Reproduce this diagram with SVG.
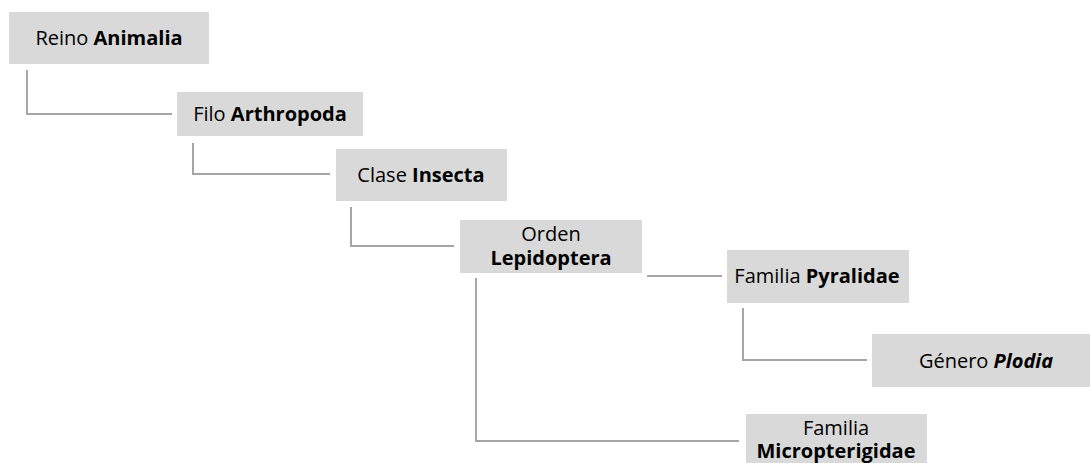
<svg xmlns="http://www.w3.org/2000/svg" width="1090" height="463" viewBox="0 0 1090 463">
<style>
.box{fill:#d9d9d9;}
.t{font-family:"Open Sans","Liberation Sans",sans-serif;font-size:20px;fill:#000;text-anchor:middle;}
.b{font-weight:bold;}
.bi{font-weight:bold;font-style:italic;}
.c{fill:none;stroke:#a6a6a6;stroke-width:2;}
</style>
<rect width="1090" height="463" fill="#fff"/>
<g id="connectors">
<path class="c" d="M27 70 V114 H172"/>
<path class="c" d="M193 143 V174 H330"/>
<path class="c" d="M351 207 V246 H454"/>
<path class="c" d="M647 276 H722"/>
<path class="c" d="M743 308 V360 H867"/>
<path class="c" d="M476 278 V441 H739"/>
</g>
<g id="reino">
<rect class="box" x="9" y="12" width="200" height="52"/>
<text class="t" x="109" y="45">Reino <tspan class="b">Animalia</tspan></text>
</g>
<g id="filo">
<rect class="box" x="177" y="92" width="186" height="44"/>
<text class="t" x="270" y="121">Filo <tspan class="b">Arthropoda</tspan></text>
</g>
<g id="clase">
<rect class="box" x="336" y="149" width="171" height="52"/>
<text class="t" x="421" y="182">Clase <tspan class="b">Insecta</tspan></text>
</g>
<g id="orden">
<rect class="box" x="460" y="220" width="182" height="53"/>
<text class="t" x="551" y="241">Orden</text>
<text class="t b" x="551" y="265">Lepidoptera</text>
</g>
<g id="pyralidae">
<rect class="box" x="727" y="250" width="182" height="53"/>
<text class="t" x="817" y="283">Familia <tspan class="b">Pyralidae</tspan></text>
</g>
<g id="plodia">
<rect class="box" x="872" y="334" width="228" height="53"/>
<text class="t" x="986" y="368">Género <tspan class="bi">Plodia</tspan></text>
</g>
<g id="micropterigidae">
<rect class="box" x="746" y="414" width="181" height="60"/>
<text class="t" x="836" y="435">Familia</text>
<text class="t b" x="836" y="458">Micropterigidae</text>
</g>
</svg>
